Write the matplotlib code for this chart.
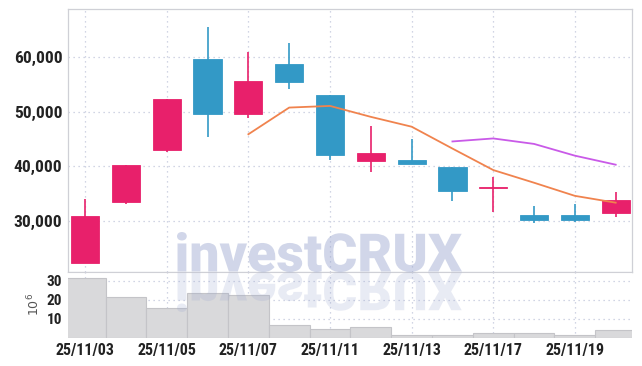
import matplotlib
matplotlib.use('Agg')
import matplotlib.pyplot as plt
from matplotlib import font_manager
from matplotlib.textpath import TextPath
from matplotlib.font_manager import FontProperties
from matplotlib.patches import PathPatch
from matplotlib.transforms import Affine2D

# daily candles (trading days only)
dates = ['25/11/03', '25/11/04', '25/11/05', '25/11/06', '25/11/07', '25/11/10', '25/11/11',
         '25/11/12', '25/11/13', '25/11/14', '25/11/17', '25/11/18', '25/11/19', '25/11/20']
opens = [22400, 33400, 43000, 59600, 49600, 58800, 53000, 41050, 41200, 39950, 36000, 31100, 31100, 31550]
closes = [31000, 40300, 52300, 49600, 55600, 55500, 42000, 42350, 40450, 35500, 36300, 30250, 30200, 33850]
highs = [34000, 40300, 52300, 65400, 61000, 62500, 53000, 47300, 45000, 39950, 38100, 32800, 33100, 35300]
lows = [22400, 33200, 42600, 45400, 48800, 54100, 41100, 38900, 40450, 33600, 31600, 29600, 29800, 30800]
ma5 = [None, None, None, None, 45870, 50750, 51050, 49050, 47250, 43250, 39320, 37000, 34600, 33350]
ma10 = [None] * 9 + [44550, 45100, 44100, 41950, 40300]
volume = [31.4, 21.4, 15.8, 23.5, 22.5, 6.7, 4.6, 5.8, 1.4, 1.4, 2.6, 2.6, 1.4, 3.7]  # x 10^6

up_col = '#e8206b'
down_col = '#3399c6'
grid_col = '#c3c8dc'

# pick a narrow font for the tick labels if one is installed
names = {f.name for f in font_manager.fontManager.ttflist}
tick_prop = FontProperties(family='DejaVu Sans', stretch='condensed', weight='bold')
for cand in ['Roboto Condensed', 'Liberation Sans Narrow', 'Open Sans Condensed']:
    if cand in names:
        tick_prop = FontProperties(family=cand, weight='bold')
        break
mark_prop = FontProperties(family='Roboto', weight=900) if 'Roboto' in names \
    else FontProperties(family='Liberation Sans', weight='bold')

fig = plt.figure(figsize=(6.42, 3.66), dpi=100)
ax = fig.add_axes([68 / 642, 1 - 272 / 366, 564 / 642, 263 / 366])
axv = fig.add_axes([68 / 642, 1 - 337.5 / 366, 564 / 642, 65.5 / 366], sharex=ax)

x = list(range(len(dates)))
for i in x:
    col = up_col if closes[i] >= opens[i] else down_col
    ax.vlines(i, lows[i], highs[i], color=col, lw=1.2, zorder=2)
    bottom = min(opens[i], closes[i])
    h = abs(closes[i] - opens[i])
    ax.bar(i, h, bottom=bottom, width=0.69, color=col, edgecolor=col, lw=0.6, zorder=3)

xs5 = [i for i in x if ma5[i] is not None]
ax.plot(xs5, [ma5[i] for i in xs5], color='#f0834e', lw=1.3, zorder=4)
xs10 = [i for i in x if ma10[i] is not None]
ax.plot(xs10, [ma10[i] for i in xs10], color='#c95ae8', lw=1.3, zorder=4)

ax.set_xlim(-0.42, 13.4)
ax.set_ylim(20670, 68780)
ax.set_yticks([30000, 40000, 50000, 60000])
ax.set_yticklabels(['{:,}'.format(v) for v in [30000, 40000, 50000, 60000]])
ax.set_xticks(x[::2])
ax.tick_params(axis='x', labelbottom=False, length=0)
ax.tick_params(axis='y', length=0, pad=4, labelcolor='#222222')
for lab in ax.get_yticklabels():
    lab.set_fontproperties(tick_prop)
    lab.set_fontsize(12.5)
ax.grid(True, ls=(0, (1, 3)), color=grid_col, lw=0.9)
ax.set_axisbelow(True)
for s in ax.spines.values():
    s.set_color('#cfd0d6')
    s.set_linewidth(0.9)

axv.bar(x, volume, width=1.0, color='#d9d9db', edgecolor='#c4c4c8', lw=0.8, zorder=2)
axv.set_ylim(0, 34.6)
axv.set_yticks([10, 20, 30])
axv.set_xticks(x[::2])
axv.set_xticklabels(dates[::2])
axv.tick_params(length=0)
axv.tick_params(axis='y', pad=4, labelcolor='#222222')
axv.tick_params(axis='x', pad=4, labelcolor='#222222')
for lab in axv.get_yticklabels():
    lab.set_fontproperties(tick_prop)
    lab.set_fontsize(11)
for lab in axv.get_xticklabels():
    lab.set_fontproperties(tick_prop)
    lab.set_fontsize(11.5)
axv.set_ylabel('$10^6$', color='#555555', fontsize=9, labelpad=3)
axv.grid(True, ls=(0, (1, 3)), color=grid_col, lw=0.9)
axv.set_axisbelow(True)
for s in axv.spines.values():
    s.set_visible(False)
axv.spines['top'].set_visible(True)
axv.spines['top'].set_color('#cfd0d6')

# investCRUX watermark and its reflection
tp = TextPath((0, 0), 'investCRUX', size=1, prop=mark_prop)
bb = tp.get_extents()
sx = 285 / bb.width
sy = 40 / bb.height
base = 366 - 272
mark = Affine2D().translate(-bb.x0, -bb.y0).scale(sx / 642, sy / 366).translate(177 / 642, base / 366)
fig.patches.append(PathPatch(tp, transform=mark + fig.transFigure, color='#9aa6cf', alpha=0.45,
                             lw=0, zorder=10))
refl = Affine2D().translate(-bb.x0, -bb.y0).scale(sx / 642, -sy / 366).translate(177 / 642, base / 366)
rp = PathPatch(tp, transform=refl + fig.transFigure, color='#9aa6cf', alpha=0.22, lw=0, zorder=10)
rp.set_clip_path(axv.patch)
fig.patches.append(rp)

fig.savefig('out.png', dpi=100)
